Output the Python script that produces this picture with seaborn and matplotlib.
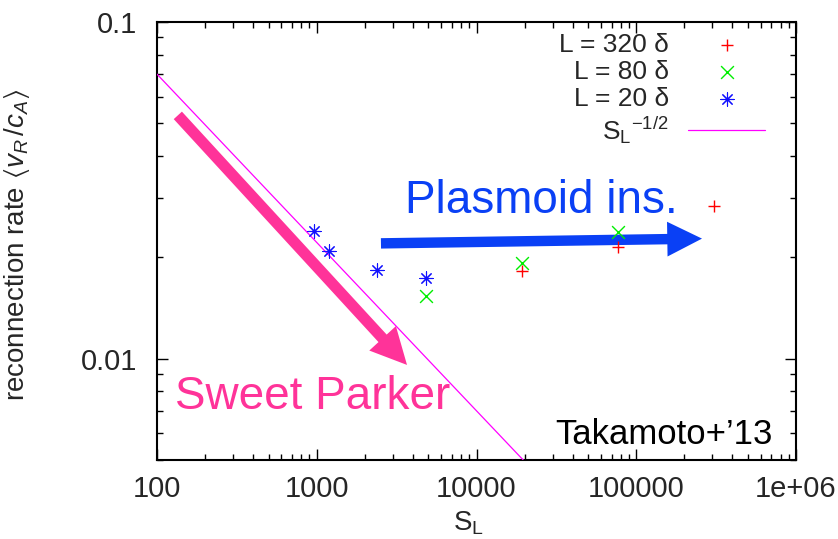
import matplotlib
matplotlib.use("Agg")
import matplotlib.pyplot as plt
from matplotlib.patches import FancyArrowPatch
from matplotlib.ticker import LogLocator, FixedLocator, FixedFormatter, NullFormatter
import seaborn as sns
import pandas as pd

# ---- data ----
s_l320 = [19200, 76800, 307200]
r_l320 = [0.0182, 0.0215, 0.0285]
s_l80 = [4800, 19200, 76800]
r_l80 = [0.0153, 0.0192, 0.0237]
s_l20 = [960, 1200, 2400, 4800]
r_l20 = [0.0239, 0.0209, 0.0184, 0.0174]
sp_line_x = [100, 1e6]
sp_line_y = [0.07, 0.0007]

xticks = [100, 1000, 10000, 100000, 1e6]
xticklabels = ["100", "1000", "10000", "100000", "1e+06"]
yticks = [0.01, 0.1]
yticklabels = ["0.01", "0.1"]

# annotation arrows (data coordinates)
sp_arrow = [(135, 0.0528), (3673, 0.00958)]
pl_arrow = [(2523, 0.0220), (258000, 0.02273)]

sns.set_style("ticks")
plt.rcParams["font.family"] = ["Liberation Sans", "DejaVu Sans"]
plt.rcParams["mathtext.fontset"] = "custom"
plt.rcParams["mathtext.rm"] = "Liberation Sans"
plt.rcParams["mathtext.it"] = "Liberation Sans:italic"
plt.rcParams["mathtext.fallback"] = "stixsans"

fig = plt.figure(figsize=(8.38, 5.39), dpi=100)
ax = fig.add_axes([157 / 838, (539 - 460) / 539, 639 / 838, 438 / 539])

df320 = pd.DataFrame({"S": s_l320, "r": r_l320})
df80 = pd.DataFrame({"S": s_l80, "r": r_l80})
df20 = pd.DataFrame({"S": s_l20, "r": r_l20})
dfl = pd.DataFrame({"S": sp_line_x, "r": sp_line_y})

sns.scatterplot(data=df320, x="S", y="r", marker="+", color="#ff0000", s=85,
                linewidth=1.0, ax=ax, label="L = 320 δ", zorder=5)
sns.scatterplot(data=df80, x="S", y="r", marker="x", color="#00ee00", s=85,
                linewidth=1.0, ax=ax, label="L = 80 δ", zorder=5)
sns.scatterplot(data=df20, x="S", y="r", marker=(8, 2, 0), color="#1010ff", s=90,
                linewidth=0.8, ax=ax, label="L = 20 δ", zorder=5)
sns.lineplot(data=dfl, x="S", y="r", color="#ff00ff", linewidth=0.9, ax=ax,
             label=r"S$_\mathregular{L}$$^\mathregular{-1/2}$", zorder=4)

ax.set_xscale("log")
ax.set_yscale("log")
ax.set_xlim(100, 1e6)
ax.set_ylim(0.005, 0.1)

ax.xaxis.set_major_locator(FixedLocator(xticks))
ax.xaxis.set_major_formatter(FixedFormatter(xticklabels))
ax.yaxis.set_major_locator(FixedLocator(yticks))
ax.yaxis.set_major_formatter(FixedFormatter(yticklabels))
ax.xaxis.set_minor_locator(LogLocator(base=10, subs=range(2, 10), numticks=20))
ax.yaxis.set_minor_locator(LogLocator(base=10, subs=range(2, 10), numticks=20))
ax.xaxis.set_minor_formatter(NullFormatter())
ax.yaxis.set_minor_formatter(NullFormatter())

ax.tick_params(which="both", direction="in", top=True, right=True, color="black")
ax.tick_params(which="major", length=8, width=1.0, labelsize=21)
ax.tick_params(which="minor", length=4.5, width=1.0)
ax.tick_params(axis="y", which="major", pad=14)
ax.tick_params(axis="x", which="major", pad=11)
for sp in ax.spines.values():
    sp.set_linewidth(1.5)
    sp.set_color("black")

ax.set_xlabel(r"S$_\mathregular{L}$", fontsize=20)
ax.set_ylabel(r"reconnection rate $\langle\mathit{v_R}\,/\mathit{c_A}\rangle$", fontsize=20)
ax.xaxis.set_label_coords((468 - 157) / 639, -0.112)
ax.yaxis.set_label_coords((32 - 157) / 639, 0.49)

# legend (gnuplot style: labels right-aligned, key on the right)
h, l = ax.get_legend_handles_labels()
order = ["L = 320 δ", "L = 80 δ", "L = 20 δ", r"S$_\mathregular{L}$$^\mathregular{-1/2}$"]
hl = dict(zip(l, h))
ax.legend([hl[k] for k in order], order, loc="upper right",
          bbox_to_anchor=(765 / 838, (539 - 33) / 539), bbox_transform=fig.transFigure,
          frameon=False, markerfirst=False, fontsize=19, handlelength=2.9,
          handletextpad=0.75, labelspacing=0.12, borderpad=0, borderaxespad=0)

# arrows
ax.add_patch(FancyArrowPatch(sp_arrow[0], sp_arrow[1],
                             arrowstyle="simple,head_length=2.6,head_width=2.6,tail_width=0.8",
                             mutation_scale=10, color="#ff3399", shrinkA=0, shrinkB=0,
                             linewidth=0, zorder=3))
ax.add_patch(FancyArrowPatch(pl_arrow[0], pl_arrow[1],
                             arrowstyle="simple,head_length=2.5,head_width=2.5,tail_width=0.75",
                             mutation_scale=10, color="#0a40f5", shrinkA=0, shrinkB=0,
                             linewidth=0, zorder=3))

# annotations
ax.text(129.6, 0.00708, "Sweet Parker", color="#ff3399", fontsize=33, va="baseline", ha="left")
ax.text(3568, 0.0270, "Plasmoid ins.", color="#0a40f5", fontsize=33, va="baseline", ha="left")
ax.text(718000, 0.00557, "Takamoto+’13", color="black", fontsize=25, va="baseline", ha="right")

fig.savefig("out.png", dpi=100)
